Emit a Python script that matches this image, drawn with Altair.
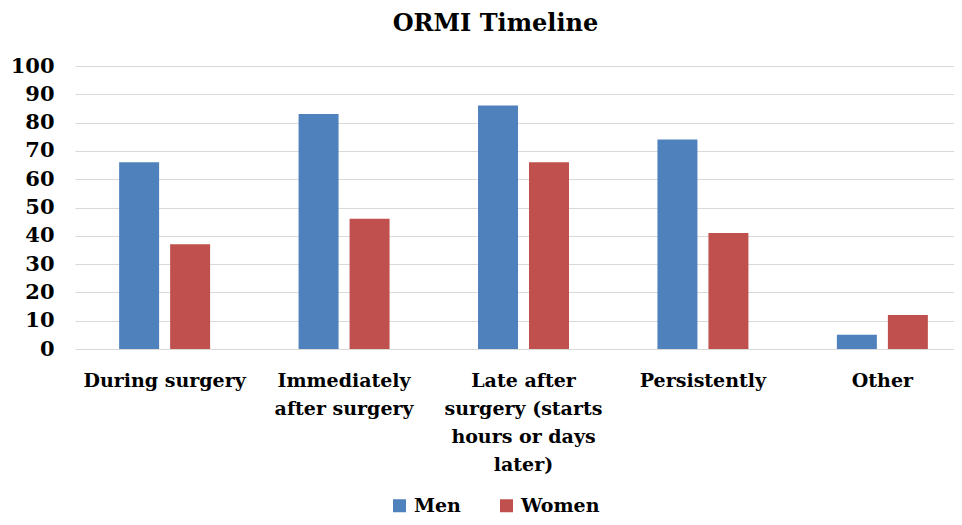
import altair as alt
import pandas as pd

categories = ["During surgery", "Immediately|after surgery", "Late after|surgery (starts|hours or days|later)", "Persistently", "Other"]
men = [66, 83, 86, 74, 5]
women = [37, 46, 66, 41, 12]
series = ["Men", "Women"]
colors = ["#4F81BD", "#C0504D"]

rows = []
for c, m, w in zip(categories, men, women):
    rows.append({"cat": c, "series": "Men", "value": m})
    rows.append({"cat": c, "series": "Women", "value": w})
df = pd.DataFrame(rows)

FONT = "DejaVu Serif"

chart = alt.Chart(df).mark_bar().encode(
    x=alt.X("cat:N", sort=categories, title=None,
            scale=alt.Scale(paddingInner=0.493, paddingOuter=0.246, range=[0, 897]),
            axis=alt.Axis(labelExpr="split(datum.label, '|')", labelAngle=0,
                          labelFont=FONT, labelFontWeight="bold", labelFontSize=19,
                          labelColor="#000000", labelLineHeight=28, labelPadding=22,
                          domain=False, ticks=False, grid=False)),
    xOffset=alt.XOffset("series:N", sort=series, scale=alt.Scale(paddingInner=0.216)),
    y=alt.Y("value:Q", title=None,
            scale=alt.Scale(domain=[0, 100]),
            axis=alt.Axis(values=list(range(0, 101, 10)), labelFont=FONT, labelFontWeight="bold",
                          labelFontSize=21, labelColor="#000000", labelPadding=21,
                          domain=False, ticks=False, grid=True, gridColor="#D9D9D9", gridWidth=1)),
    color=alt.Color("series:N", sort=series,
                    scale=alt.Scale(domain=series, range=colors),
                    legend=alt.Legend(title=None, orient="none", direction="horizontal",
                                      legendX=315, legendY=430, symbolType="square",
                                      symbolSize=169, symbolStrokeWidth=0,
                                      labelFont=FONT, labelFontWeight="bold", labelFontSize=19,
                                      labelColor="#000000", columnPadding=36, labelOffset=5)),
).properties(
    width=875, height=283,
    title=alt.TitleParams("ORMI Timeline", font=FONT, fontSize=24, fontWeight="bold",
                          color="#000000", anchor="middle", dx=-17, offset=19),
    autosize=alt.AutoSizeParams(type="none"),
    padding={"left": 67, "top": 58, "right": 4, "bottom": 168},
).configure_view(stroke=None)

chart.save("out.html", embed_options={"renderer": "svg", "actions": False})
